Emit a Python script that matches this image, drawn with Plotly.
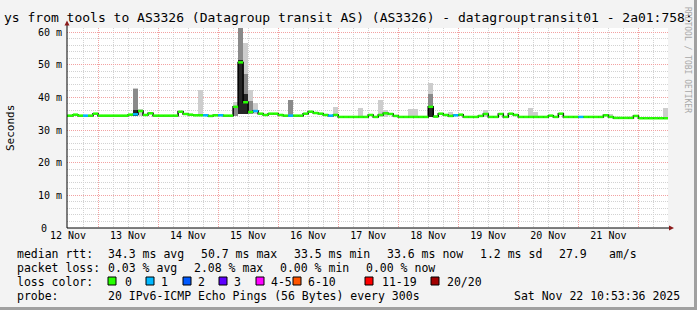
import plotly.graph_objects as go
import pandas as pd

# ---------------- data ----------------
bin_start = "2025-11-12 10:00"   # first 2-hour bin
bin_hours = 2

median_ms = [
    34.4, 34.4, 34.7, 34.4, 34.4, 34.4, 35.0, 34.4, 34.4, 34.4,
    34.4, 34.4, 34.4, 34.7, 34.8, 35.8, 34.6, 35.1, 34.4, 34.4,
    34.4, 34.4, 34.4, 35.6, 34.9, 34.7, 34.5, 34.5, 34.5, 34.3,
    34.5, 34.5, 34.4, 34.4, 37.1, 50.7, 38.5, 35.5, 35.8, 35.0,
    34.6, 35.0, 35.0, 34.6, 34.4, 34.4, 34.4, 34.4, 35.0, 35.6,
    35.2, 35.0, 34.6, 34.4, 34.6, 34.0, 34.0, 34.0, 34.0, 34.0,
    34.0, 34.6, 34.0, 34.6, 35.1, 34.9, 34.3, 34.0, 34.0, 34.0,
    34.0, 34.0, 34.0, 37.1, 34.1, 35.0, 34.6, 34.3, 34.5, 34.7,
    34.0, 34.0, 34.0, 34.3, 34.9, 34.0, 34.0, 34.9, 34.0, 35.0,
    34.6, 34.0, 34.0, 34.0, 34.0, 34.0, 34.0, 34.4, 34.0, 35.0,
    34.0, 34.0, 34.0, 34.0, 34.0, 34.0, 34.0, 34.0, 34.5, 34.0,
    33.7, 33.7, 33.7, 33.7, 34.3, 33.6, 33.6, 33.6, 33.6, 33.6,
    33.6,
]
loss_count = [
    0, 0, 0, 0, 1, 0, 0, 0, 0, 0,
    0, 0, 0, 0, 1, 0, 0, 0, 0, 0,
    0, 0, 0, 0, 0, 0, 0, 0, 1, 0,
    0, 1, 0, 0, 0, 0, 0, 0, 1, 0,
    0, 0, 0, 0, 0, 1, 0, 0, 0, 0,
    0, 0, 0, 1, 0, 0, 0, 0, 0, 0,
    0, 0, 0, 0, 0, 0, 0, 0, 0, 0,
    0, 0, 0, 0, 0, 0, 0, 0, 1, 0,
    0, 0, 0, 0, 0, 0, 0, 0, 0, 0,
    0, 0, 0, 0, 0, 0, 0, 0, 0, 0,
    0, 0, 0, 1, 0, 0, 0, 0, 0, 0,
    0, 0, 0, 0, 0, 0, 0, 0, 0, 0,
    0,
]

# smoke (ping spread) for bins where it is visible
smoke_bin   = [14, 15, 27, 34, 35, 36, 37, 38, 45, 54, 59, 63, 64, 69, 70, 73, 77, 84, 93, 94, 109, 120]
smoke_lo    = [34.4, 34.4, 34.4, 34.4, 35.0, 35.0, 34.8, 34.8, 34.4, 34.4, 34.0, 34.0, 34.0, 34.0, 34.0, 34.0, 34.0, 34.0, 34.0, 34.0, 34.0, 33.6]
smoke_outer = [43.0, 36.5, 42.2, 38.5, 61.5, 56.5, 42.2, 38.2, 39.2, 37.1, 36.6, 39.2, 36.1, 36.4, 36.4, 44.3, 35.5, 36.1, 36.6, 35.6, 34.8, 36.6]
smoke_mid   = [42.5, None, None, 37.5, 61.5, 47.0, 39.0, None, 39.2, None, None, None, None, None, None, 41.0, None, None, None, None, None, None]
smoke_core  = [36.0, None, None, None, 51.4, 41.0, None, None, None, None, None, None, None, None, None, 37.1, None, None, None, None, None, None]

loss_labels = ["0", "1", "2", "3", "4-5", "6-10", "11-19", "20/20"]
loss_colors = ["#26ff00", "#00b8ff", "#0059ff", "#5e00ff", "#ff00ff", "#ff5500", "#ff0000", "#a10000"]

y_ticks = [10, 20, 30, 40, 50, 60]
y_ticktext = ["10 m", "20 m", "30 m", "40 m", "50 m", "60 m"]
y_zero_label = "0"

title_text = "ys from tools to AS3326 (Datagroup transit AS) (AS3326) - datagrouptransit01 - 2a01:758:"
stats_rtt = [("median rtt:", 16), ("34.3 ms avg", 107), ("50.7 ms max", 200), ("33.5 ms min", 293),
             ("33.6 ms now", 386), ("1.2 ms sd", 479), ("27.9", 558), ("am/s", 608)]
stats_loss = [("packet loss:", 16), ("0.03 % avg", 107), ("2.08 % max", 193), ("0.00 % min", 279), ("0.00 % now", 365)]
probe_text = "20 IPv6-ICMP Echo Pings (56 Bytes) every 300s"
date_text = "Sat Nov 22 10:53:36 2025"

# ---------------- layout geometry ----------------
W, H = 697, 310
PL, PR, PT, PB = 67, 668, 28, 228
MONO = "DejaVu Sans Mono"


def px(x):
    return (x - PL) / (PR - PL)


def py(y):
    return (PB - y) / (PB - PT)


N = len(median_ms)
t0 = pd.Timestamp(bin_start)
step = pd.Timedelta(hours=bin_hours)
times = [t0 + step * i for i in range(N + 1)]
centers = [t0 + step * i + step / 2 for i in range(N)]

fig = go.Figure()

# smoke bars
def smoke_layer(tops, color):
    xs, bases, hs = [], [], []
    for b, lo, top in zip(smoke_bin, smoke_lo, tops):
        if top is None:
            continue
        xs.append(centers[b])
        bases.append(lo)
        hs.append(top - lo)
    fig.add_trace(go.Bar(x=xs, y=hs, base=bases, width=bin_hours * 3600000,
                         marker=dict(color=color, line=dict(width=0)),
                         showlegend=False, hoverinfo="skip"))

smoke_layer(smoke_outer, "#cdcdcd")
smoke_layer(smoke_mid, "#8a8a8a")
smoke_layer(smoke_core, "#262626")

# black step line (verticals)
fig.add_trace(go.Scatter(x=times, y=median_ms + [median_ms[-1]], mode="lines",
                         line=dict(color="#000000", width=1.5, shape="hv"),
                         showlegend=False, hoverinfo="skip"))

# coloured horizontal segments by loss
for ci, col in enumerate(loss_colors):
    xs, ys = [], []
    for i in range(N):
        if loss_count[i] == ci:
            xs += [times[i], times[i + 1], None]
            ys += [median_ms[i], median_ms[i], None]
    if xs:
        fig.add_trace(go.Scatter(x=xs, y=ys, mode="lines",
                                 line=dict(color=col, width=2.5),
                                 showlegend=False, hoverinfo="skip"))

MGRID = "#f2a2a2"
GRID = "#d2d2d2"
DASH = "1px,1px"

fig.update_xaxes(
    type="date",
    range=["2025-11-12 11:36", "2025-11-22 11:50"],
    tick0="2025-11-12", dtick=86400000, tickformat="%d %b",
    ticklabelmode="period", ticks="",
    showgrid=True, gridcolor=MGRID, griddash=DASH, gridwidth=1,
    minor=dict(dtick=21600000, tick0="2025-11-12", showgrid=True, gridcolor=GRID, griddash=DASH, gridwidth=1),
    tickfont=dict(family=MONO, size=10, color="#000"),
    showline=False, zeroline=False, fixedrange=True,
)
fig.update_yaxes(
    range=[0, (PB - PT) / ((PB - 32) / 60)],
    tickvals=y_ticks, ticktext=y_ticktext, ticks="",
    showgrid=True, gridcolor=MGRID, griddash=DASH, gridwidth=1,
    minor=dict(dtick=2, showgrid=True, gridcolor=GRID, griddash=DASH, gridwidth=1),
    tickfont=dict(family=MONO, size=10, color="#000"),
    ticklabelstandoff=4,
    showline=False, zeroline=False, fixedrange=True,
)

shapes = []
# axes with arrows
shapes.append(dict(type="line", xref="paper", yref="paper", x0=px(67), x1=px(67), y0=py(228), y1=py(24),
                   line=dict(color="#000", width=1)))
shapes.append(dict(type="line", xref="paper", yref="paper", x0=px(67), x1=px(670), y0=py(228), y1=py(228),
                   line=dict(color="#000", width=1)))
shapes.append(dict(type="path", xref="paper", yref="paper",
                   path=f"M {px(64.5)} {py(25.5)} L {px(69.5)} {py(25.5)} L {px(67)} {py(20.5)} Z",
                   fillcolor="#8b1a1a", line=dict(width=0)))
shapes.append(dict(type="path", xref="paper", yref="paper",
                   path=f"M {px(669)} {py(225.5)} L {px(669)} {py(230.5)} L {px(674)} {py(228)} Z",
                   fillcolor="#8b1a1a", line=dict(width=0)))
# frame shading
shapes.append(dict(type="rect", xref="paper", yref="paper", x0=px(694), x1=px(698), y0=py(311), y1=py(-1),
                   fillcolor="#a0a0a0", line=dict(width=0)))
shapes.append(dict(type="rect", xref="paper", yref="paper", x0=px(-1), x1=px(698), y0=py(311), y1=py(307),
                   fillcolor="#a0a0a0", line=dict(width=0)))
# loss colour boxes
box_x = [108, 146, 183, 219, 256, 293, 365, 431]
label_x = [124, 160, 197, 233, 270, 307, 381, 446]
for bx, col in zip(box_x, loss_colors):
    shapes.append(dict(type="rect", xref="paper", yref="paper", x0=px(bx), x1=px(bx + 8),
                       y0=py(285), y1=py(277), fillcolor=col, line=dict(color="#000", width=1)))

ann = []


def txt(s, x, y, size=11.5, **kw):
    d = dict(text=s, xref="paper", yref="paper", x=px(x), y=py(y), xanchor="left", yanchor="middle",
             showarrow=False, font=dict(family=MONO, size=size, color="#000"), borderpad=0)
    d.update(kw)
    ann.append(d)


# zero label of the y axis (rrdtool places it under the digits column)
ann.append(dict(text=y_zero_label, xref="paper", yref="paper", x=px(48), y=py(228), xanchor="right",
                yanchor="middle", showarrow=False, borderpad=0,
                font=dict(family=MONO, size=10, color="#000")))
# title
ann.append(dict(text=title_text, xref="paper", yref="paper", x=px(348.5), y=py(18), xanchor="center",
                yanchor="middle", showarrow=False, font=dict(family=MONO, size=13, color="#000")))
# y axis title
ann.append(dict(text="Seconds", xref="paper", yref="paper", x=px(10), y=py(128), xanchor="center",
                yanchor="middle", textangle=-90, showarrow=False, font=dict(family=MONO, size=11, color="#000")))
# watermark
ann.append(dict(text="RRDTOOL / TOBI OETIKER", xref="paper", yref="paper", x=px(688), y=py(60), xanchor="center",
                yanchor="middle", textangle=90, showarrow=False, font=dict(family=MONO, size=8, color="#a8a8a8")))

for s, x in stats_rtt:
    txt(s, x, 254)
for s, x in stats_loss:
    txt(s, x, 268)
txt("loss color:", 16, 282)
for s, x in zip(loss_labels, label_x):
    txt(s, x, 282)
txt("probe:", 16, 296)
txt(probe_text, 107, 296)
txt(date_text, 513, 296)

fig.update_layout(
    width=W, height=H, autosize=False,
    margin=dict(l=PL, r=W - PR, t=PT, b=H - PB, pad=0),
    paper_bgcolor="#f3f3f3", plot_bgcolor="#ffffff",
    barmode="overlay", bargap=0, showlegend=False,
    shapes=shapes, annotations=ann,
)

fig.write_html("out.html", config={"displayModeBar": False})
